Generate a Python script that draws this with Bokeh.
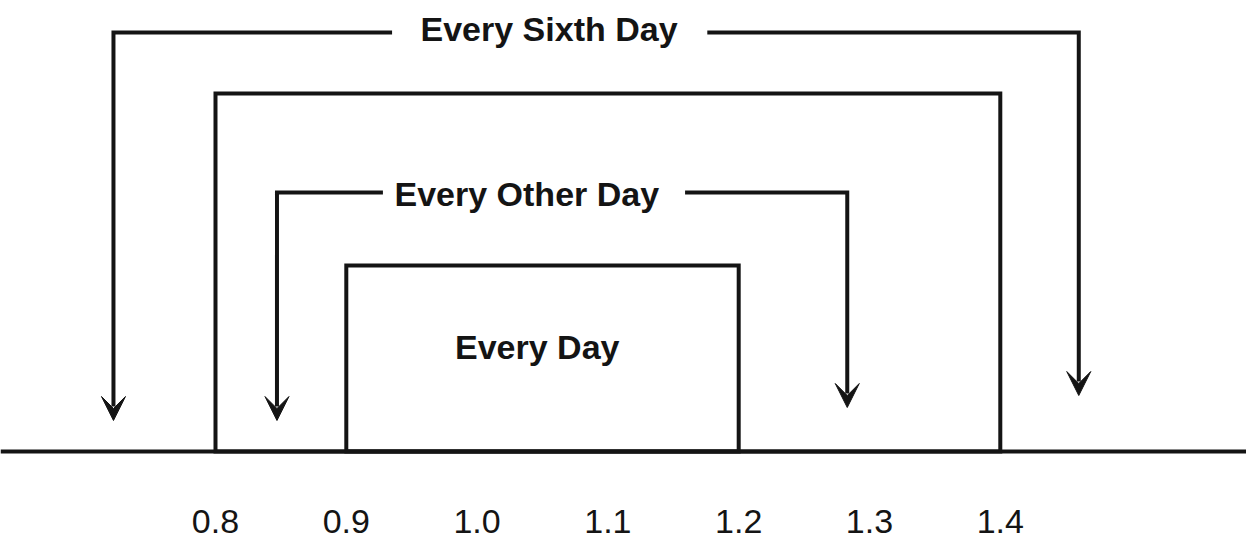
from bokeh.plotting import figure
from bokeh.models import Range1d, Span, Arrow, VeeHead, ColumnDataSource
from bokeh.core.properties import value
from bokeh.embed import file_html
from bokeh.resources import INLINE

# ---- data ----
ticks = [0.8, 0.9, 1.0, 1.1, 1.2, 1.3, 1.4]
tick_labels = ["0.8", "0.9", "1.0", "1.1", "1.2", "1.3", "1.4"]

# boxes (intervals on the axis) and their heights
box_names = ["Every Day", "Every Sixth Day (box)"]
box_left = [0.9, 0.8]
box_right = [1.2, 1.4]
box_top = [186, 358]

# bracket arrows
bracket_names = ["Every Other Day", "Every Sixth Day"]
bracket_left = [0.847, 0.722]
bracket_right = [1.283, 1.460]
bracket_top = [259, 419]
tip_left = [31, 31]
tip_right = [44, 56]

labels = ["Every Day", "Every Other Day", "Every Sixth Day"]

# ---- layout constants ----
gap_left = [0.928, 0.935]
gap_right = [1.159, 1.176]
label_x = [1.046, 1.038, 1.055]
label_y = [105, 258, 423]
tick_label_y = -70
INK = "#141414"

p = figure(width=1246, height=541, output_backend="svg", toolbar_location=None,
           x_range=Range1d(0.63563, 1.58823), y_range=Range1d(-90, 451),
           x_axis_location=None, y_axis_location=None, min_border=0,
           outline_line_color=None, background_fill_color="white",
           border_fill_color="white")
p.xgrid.visible = False
p.ygrid.visible = False

# baseline
p.add_layout(Span(location=0, dimension="width", line_color=INK, line_width=4))

# boxes
p.quad(left=box_left, right=box_right, top=box_top, bottom=[0] * len(box_top),
       fill_color=None, line_color=INK, line_width=4, line_join="miter")

# bracket paths
xs, ys = [], []
for i in range(len(bracket_names)):
    xs.append([gap_left[i], bracket_left[i], bracket_left[i]])
    ys.append([bracket_top[i], bracket_top[i], tip_left[i] + 14])
    xs.append([gap_right[i], bracket_right[i], bracket_right[i]])
    ys.append([bracket_top[i], bracket_top[i], tip_right[i] + 14])
p.multi_line(xs=xs, ys=ys, line_color=INK, line_width=4, line_join="miter",
             line_cap="butt")

for i in range(len(bracket_names)):
    for x, t in ((bracket_left[i], tip_left[i]), (bracket_right[i], tip_right[i])):
        p.add_layout(Arrow(end=VeeHead(size=24, fill_color=INK, line_color=INK, line_width=1),
                           x_start=x, y_start=t + 16, x_end=x, y_end=t,
                           line_alpha=0))

# labels
p.text(x=label_x, y=label_y, text=labels, text_font=value("Liberation Sans"),
       text_font_style="bold", text_font_size="34px", text_align="center",
       text_baseline="middle", text_color=INK)

# tick labels
src = ColumnDataSource(dict(x=ticks, y=[tick_label_y] * len(ticks), t=tick_labels))
p.text(x="x", y="y", text="t", source=src,
       text_font=value("Liberation Sans"), text_font_size="34px",
       text_align="center", text_baseline="middle", text_color=INK)

open("out.html", "w").write(file_html(p, INLINE))
